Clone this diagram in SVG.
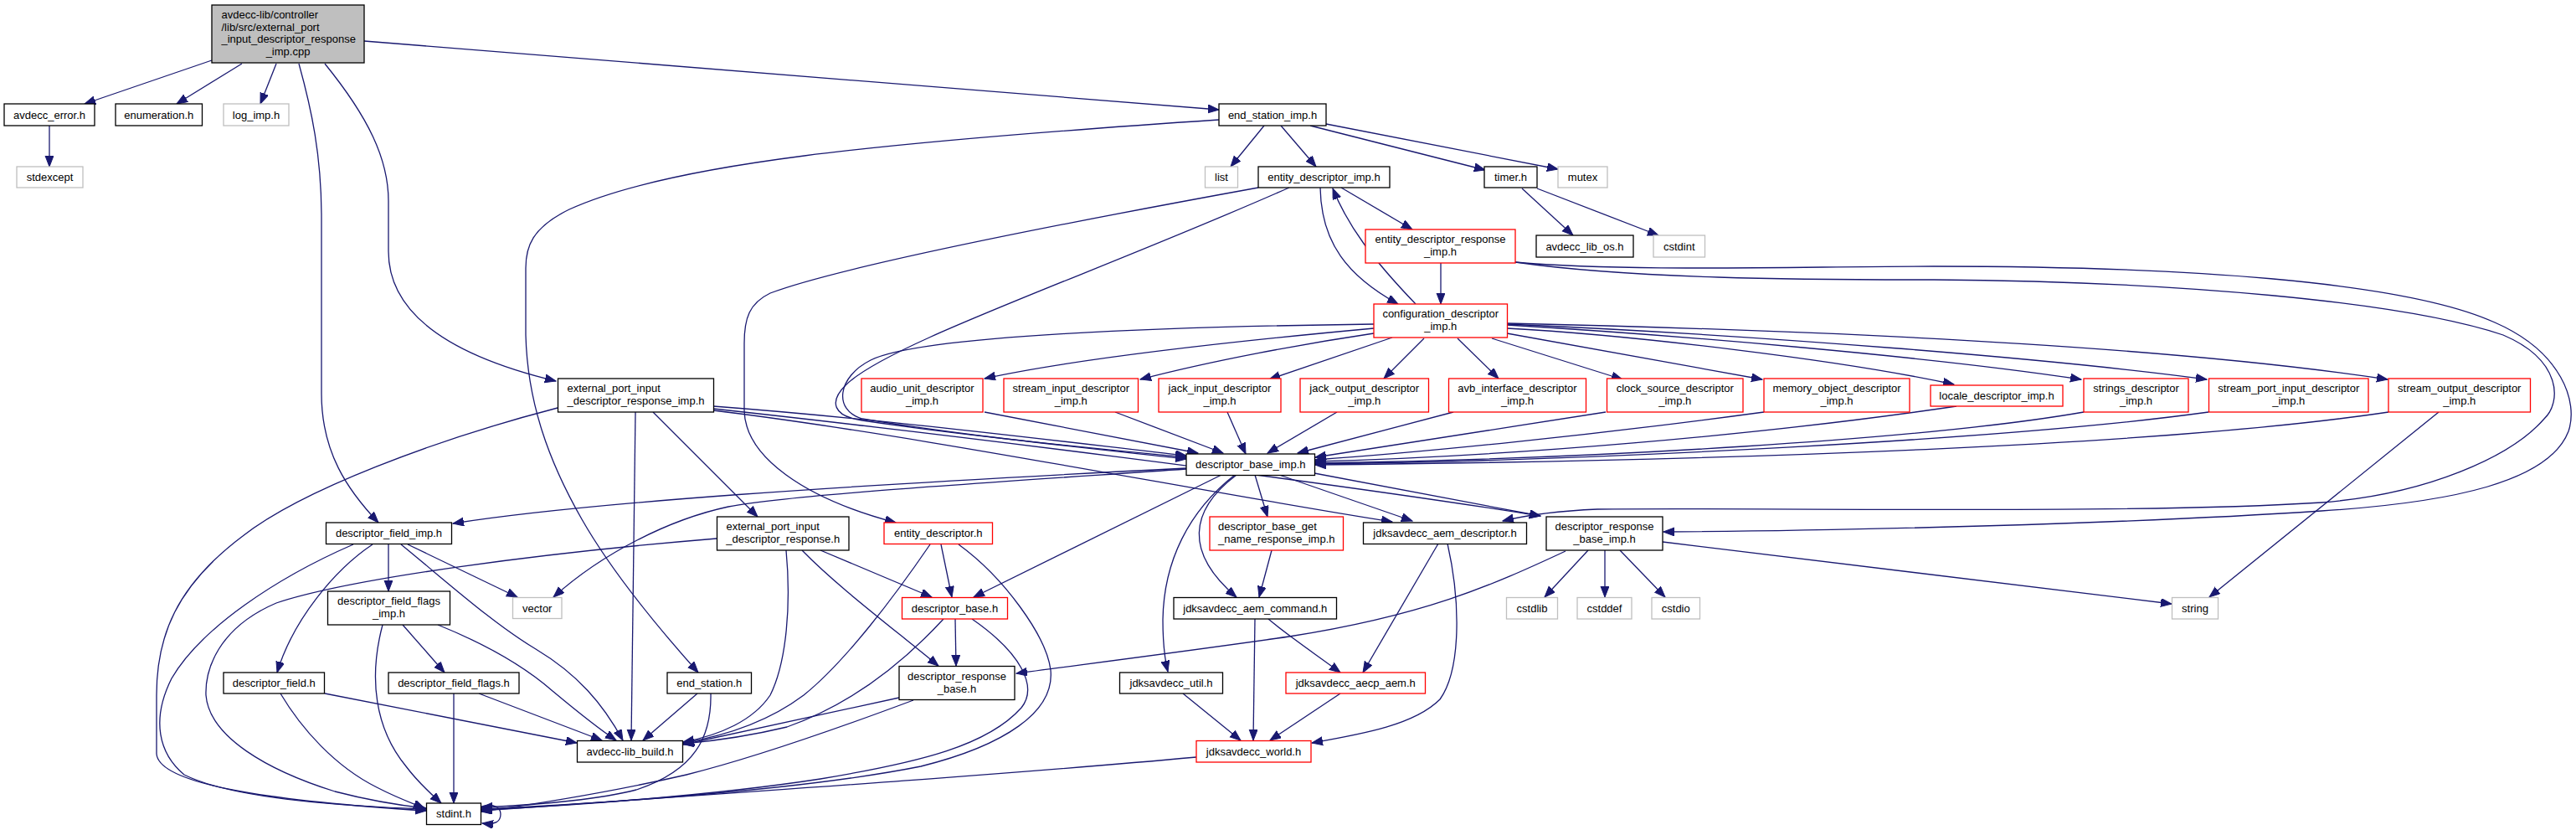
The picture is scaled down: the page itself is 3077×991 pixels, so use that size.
<svg xmlns="http://www.w3.org/2000/svg" width="3077" height="991" viewBox="0 0 3077 991">
<defs>
<marker id="a" markerUnits="userSpaceOnUse" markerWidth="14" markerHeight="11" refX="13" refY="5" orient="auto">
<path d="M0,0 L13,5 L0,10 z" fill="#191970" stroke="#191970" stroke-width="1"/>
</marker>
<style>
text{font-family:"Liberation Sans",Arial,sans-serif;font-size:13px;fill:#000}
.c{text-anchor:middle}
.n rect{fill:#fff;stroke:#000;stroke-width:1.3}
.g rect{stroke:#bfbfbf}
.r rect{stroke:#ff0000}
#edges path{fill:none;stroke:#191970;stroke-width:1.3;marker-end:url(#a)}
</style>
</defs>
<rect width="3077" height="991" fill="#fff"/>
<g id="edges">
<path d="M253,72 L101,124"/>
<path d="M289,76 L211,124"/>
<path d="M330,76 L311,124"/>
<path d="M357,76 C372,130 384,185 384,260 L384,470 C384,540 415,585 452,624"/>
<path d="M388,76 C440,140 464,190 464,240 L464,300 C464,385 560,430 664,455"/>
<path d="M435,49 L1456,131"/>
<path d="M59,150 L59,199"/>
<path d="M1510,150 L1470,199"/>
<path d="M1530,150 L1572,199"/>
<path d="M1565,150 L1774,203"/>
<path d="M1584,148 L1861,202"/>
<path d="M1456,143 C1050,170 800,195 680,250 C635,272 628,295 628,320 L628,400 C630,480 655,550 695,620 C735,690 800,765 834,803"/>
<path d="M1818,225 L1879,281"/>
<path d="M1836,225 L1981,281"/>
<path d="M1602,224 L1687,274"/>
<path d="M1577,224 C1578,290 1610,330 1670,363"/>
<path d="M1540,224 C1300,330 1060,410 1010,460 C990,480 995,497 1030,502 C1150,520 1300,535 1417,546"/>
<path d="M1503,224 C1250,270 1000,320 920,350 C895,362 889,380 889,410 L889,490 C890,545 960,595 1070,624"/>
<path d="M1691,363 C1640,310 1610,270 1592,225"/>
<path d="M1721,314 L1721,363"/>
<path d="M1810,313 C1950,325 2150,318 2310,318 C2600,318 2870,335 2980,385 C3060,420 3080,480 3068,515 C3045,575 2930,600 2773,610 C2550,625 2200,634 1987,635"/>
<path d="M1810,313 C1950,333 2150,334 2310,334 C2600,336 2870,360 2990,400 C3060,430 3060,480 3039,500 C3000,545 2900,590 2773,600 C2550,614 2150,606 1908,608 C1860,610 1820,616 1795,622"/>
<path d="M1641,392 C1500,405 1300,425 1176,452"/>
<path d="M1641,398 C1560,410 1450,430 1362,453"/>
<path d="M1663,403 L1516,453"/>
<path d="M1701,404 L1653,452"/>
<path d="M1741,404 L1790,452"/>
<path d="M1782,404 L1938,453"/>
<path d="M1800,398 L2105,453"/>
<path d="M1800,392 C1950,400 2200,430 2334,459"/>
<path d="M1800,388 C2000,400 2300,425 2486,453"/>
<path d="M1800,387 C2100,400 2450,428 2636,453"/>
<path d="M1800,386 C2200,395 2600,415 2852,453"/>
<path d="M1176,492 L1431,541"/>
<path d="M1332,492 L1461,541"/>
<path d="M1466,492 L1488,542"/>
<path d="M1597,492 L1514,541"/>
<path d="M1736,492 L1550,541"/>
<path d="M1918,492 L1571,546"/>
<path d="M2107,492 C1900,520 1700,540 1571,549"/>
<path d="M2337,485 C2100,520 1800,545 1571,551"/>
<path d="M2489,492 C2300,525 1900,548 1571,553"/>
<path d="M2638,492 C2400,525 1900,550 1571,554"/>
<path d="M2853,492 C2600,530 2100,550 1571,555"/>
<path d="M1641,387 C1400,390 1100,400 1040,430 C1000,450 995,490 1030,500 C1150,520 1300,535 1417,548"/>
<path d="M852,485 C1050,500 1250,525 1417,544"/>
<path d="M852,490 C1100,520 1450,590 1663,623"/>
<path d="M852,488 C1100,515 1550,570 1840,616"/>
<path d="M780,492 L905,617"/>
<path d="M759,492 L754,884"/>
<path d="M666,487 C520,525 360,585 290,640 C210,700 187,760 187,830 L187,900 C190,940 350,958 509,968"/>
<path d="M464,650 L464,706"/>
<path d="M445,650 C400,680 350,740 331,803"/>
<path d="M487,650 L618,713"/>
<path d="M479,650 C540,700 590,745 640,775 C690,805 720,840 744,884"/>
<path d="M422,650 C330,690 240,750 205,810 C180,860 190,900 220,925 C280,955 420,963 509,966"/>
<path d="M481,746 L531,803"/>
<path d="M457,746 C440,810 448,870 485,915 C500,935 515,948 527,959"/>
<path d="M523,746 C570,765 620,790 660,825 C690,850 715,870 736,884"/>
<path d="M388,828 L689,887"/>
<path d="M335,828 C360,870 400,915 450,940 C475,953 495,960 507,965"/>
<path d="M542,828 L542,959"/>
<path d="M572,828 L719,884"/>
<path d="M833,828 L768,884"/>
<path d="M849,828 C850,880 830,920 760,943 C700,958 620,962 575,964"/>
<path d="M980,657 L1113,713"/>
<path d="M958,657 C1000,700 1060,745 1121,795"/>
<path d="M939,657 C945,720 940,790 920,830 C900,860 860,878 816,886"/>
<path d="M856,643 C650,660 420,690 330,720 C260,750 245,800 246,830 C250,880 320,920 400,945 C450,958 490,963 509,965"/>
<path d="M1124,650 L1137,713"/>
<path d="M1111,650 C1070,710 1010,790 960,830 C920,860 870,878 816,887"/>
<path d="M1145,650 C1200,690 1250,760 1255,800 C1260,850 1200,890 1100,915 C950,945 700,960 575,966"/>
<path d="M1141,739 L1142,795"/>
<path d="M1127,739 C1080,790 1020,840 940,868 C890,880 850,885 816,888"/>
<path d="M1161,739 C1220,780 1240,820 1220,845 C1180,890 1100,910 980,930 C850,950 680,962 575,967"/>
<path d="M1074,833 L816,889"/>
<path d="M1091,836 C1000,870 900,905 820,925 C720,948 640,960 575,969"/>
<path d="M1429,904 C1200,925 900,945 575,968"/>
<path d="M575,963 C590,958 598,965 598,972 C598,981 592,985 576,983"/>
<path d="M1417,559 C1000,580 700,600 541,625"/>
<path d="M1417,560 C1200,575 950,590 870,605 C800,620 720,660 661,713"/>
<path d="M1459,567 L1163,713"/>
<path d="M1475,567 C1420,610 1390,670 1389,740 C1389,770 1392,790 1395,802"/>
<path d="M1477,567 C1420,610 1415,660 1477,713"/>
<path d="M1499,567 L1514,617"/>
<path d="M1528,567 L1687,622"/>
<path d="M1570,565 L1840,616"/>
<path d="M1519,657 L1504,713"/>
<path d="M1499,739 L1497,884"/>
<path d="M1515,739 C1540,760 1570,780 1601,803"/>
<path d="M1718,649 L1628,803"/>
<path d="M1729,649 C1745,720 1745,800 1720,835 C1690,865 1630,876 1567,887"/>
<path d="M1601,828 L1517,884"/>
<path d="M1413,828 L1482,884"/>
<path d="M1897,657 L1845,713"/>
<path d="M1917,657 L1917,713"/>
<path d="M1935,657 L1989,713"/>
<path d="M1986,647 L2594,721"/>
<path d="M1870,658 C1780,700 1700,735 1540,760 C1400,780 1280,795 1214,804"/>
<path d="M2913,492 L2639,713"/>
</g>
<g id="root" class="n"><rect x="253" y="6" width="182" height="69" style="fill:#bfbfbf"/><text x="264.5" y="22">avdecc-lib/controller</text><text x="264.5" y="36.7">/lib/src/external_port</text><text x="264.5" y="51.4">_input_descriptor_response</text><text class="c" x="344" y="66.1">_imp.cpp</text></g>
<g id="avdecc_error" class="n"><rect x="5" y="124" width="108" height="26"/><text class="c" x="59" y="141.5">avdecc_error.h</text></g>
<g id="enumeration" class="n"><rect x="138" y="124" width="103.5" height="26"/><text class="c" x="189.75" y="141.5">enumeration.h</text></g>
<g id="log_imp" class="n g"><rect x="267" y="124" width="78" height="26"/><text class="c" x="306" y="141.5">log_imp.h</text></g>
<g id="stdexcept" class="n g"><rect x="20" y="199" width="79" height="25"/><text class="c" x="59.5" y="216">stdexcept</text></g>
<g id="end_station_imp" class="n"><rect x="1456" y="124" width="128" height="26"/><text class="c" x="1520" y="141.5">end_station_imp.h</text></g>
<g id="list" class="n g"><rect x="1439.5" y="199" width="39" height="25"/><text class="c" x="1459" y="216">list</text></g>
<g id="entity_descriptor_imp" class="n"><rect x="1503" y="199" width="157" height="25"/><text class="c" x="1581.5" y="216">entity_descriptor_imp.h</text></g>
<g id="timer" class="n"><rect x="1773" y="199" width="63" height="25"/><text class="c" x="1804.5" y="216">timer.h</text></g>
<g id="mutex" class="n g"><rect x="1861" y="199" width="59" height="25"/><text class="c" x="1890.5" y="216">mutex</text></g>
<g id="entity_descriptor_response_imp" class="n r"><rect x="1631" y="274" width="179" height="40"/><text class="c" x="1720.5" y="290.2">entity_descriptor_response</text><text class="c" x="1720.5" y="305.2">_imp.h</text></g>
<g id="avdecc_lib_os" class="n"><rect x="1835" y="281" width="116" height="26"/><text class="c" x="1893" y="298.5">avdecc_lib_os.h</text></g>
<g id="cstdint" class="n g"><rect x="1975" y="281" width="61.5" height="26"/><text class="c" x="2005.75" y="298.5">cstdint</text></g>
<g id="configuration_descriptor_imp" class="n r"><rect x="1641" y="363" width="159.5" height="40"/><text class="c" x="1720.75" y="379.2">configuration_descriptor</text><text class="c" x="1720.75" y="394.2">_imp.h</text></g>
<g id="external_port_input_descriptor_response_imp" class="n"><rect x="666.5" y="452" width="186" height="40"/><text x="677.5" y="468.2">external_port_input</text><text class="c" x="759.5" y="483.2">_descriptor_response_imp.h</text></g>
<g id="audio_unit_descriptor_imp" class="n r"><rect x="1029" y="452" width="145" height="40"/><text class="c" x="1101.5" y="468.2">audio_unit_descriptor</text><text class="c" x="1101.5" y="483.2">_imp.h</text></g>
<g id="stream_input_descriptor_imp" class="n r"><rect x="1199" y="452" width="160.5" height="40"/><text class="c" x="1279.25" y="468.2">stream_input_descriptor</text><text class="c" x="1279.25" y="483.2">_imp.h</text></g>
<g id="jack_input_descriptor_imp" class="n r"><rect x="1384" y="452" width="146" height="40"/><text class="c" x="1457" y="468.2">jack_input_descriptor</text><text class="c" x="1457" y="483.2">_imp.h</text></g>
<g id="jack_output_descriptor_imp" class="n r"><rect x="1553" y="452" width="153.5" height="40"/><text class="c" x="1629.75" y="468.2">jack_output_descriptor</text><text class="c" x="1629.75" y="483.2">_imp.h</text></g>
<g id="avb_interface_descriptor_imp" class="n r"><rect x="1730.5" y="452" width="164" height="40"/><text class="c" x="1812.5" y="468.2">avb_interface_descriptor</text><text class="c" x="1812.5" y="483.2">_imp.h</text></g>
<g id="clock_source_descriptor_imp" class="n r"><rect x="1919.5" y="452" width="162.5" height="40"/><text class="c" x="2000.75" y="468.2">clock_source_descriptor</text><text class="c" x="2000.75" y="483.2">_imp.h</text></g>
<g id="memory_object_descriptor_imp" class="n r"><rect x="2107" y="452" width="174" height="40"/><text class="c" x="2194" y="468.2">memory_object_descriptor</text><text class="c" x="2194" y="483.2">_imp.h</text></g>
<g id="locale_descriptor_imp" class="n r"><rect x="2306" y="460" width="158" height="25"/><text class="c" x="2385" y="477">locale_descriptor_imp.h</text></g>
<g id="strings_descriptor_imp" class="n r"><rect x="2489" y="452" width="125" height="40"/><text class="c" x="2551.5" y="468.2">strings_descriptor</text><text class="c" x="2551.5" y="483.2">_imp.h</text></g>
<g id="stream_port_input_descriptor_imp" class="n r"><rect x="2638.5" y="452" width="190.5" height="40"/><text class="c" x="2733.75" y="468.2">stream_port_input_descriptor</text><text class="c" x="2733.75" y="483.2">_imp.h</text></g>
<g id="stream_output_descriptor_imp" class="n r"><rect x="2853" y="452" width="169.5" height="40"/><text class="c" x="2937.75" y="468.2">stream_output_descriptor</text><text class="c" x="2937.75" y="483.2">_imp.h</text></g>
<g id="descriptor_base_imp" class="n"><rect x="1417" y="542" width="153.5" height="25.5"/><text class="c" x="1493.75" y="559.25">descriptor_base_imp.h</text></g>
<g id="descriptor_field_imp" class="n"><rect x="389.5" y="624" width="150" height="25.5"/><text class="c" x="464.5" y="641.25">descriptor_field_imp.h</text></g>
<g id="external_port_input_descriptor_response" class="n"><rect x="856.5" y="617" width="157.5" height="40"/><text x="867.5" y="633.2">external_port_input</text><text class="c" x="935.25" y="648.2">_descriptor_response.h</text></g>
<g id="entity_descriptor" class="n r"><rect x="1056" y="624" width="129.5" height="25.5"/><text class="c" x="1120.75" y="641.25">entity_descriptor.h</text></g>
<g id="descriptor_base_get_name_response_imp" class="n r"><rect x="1445" y="617" width="159.5" height="40"/><text x="1455" y="633.2">descriptor_base_get</text><text class="c" x="1524.75" y="648.2">_name_response_imp.h</text></g>
<g id="jdksavdecc_aem_descriptor" class="n"><rect x="1628.5" y="624" width="195" height="25.5"/><text class="c" x="1726" y="641.25">jdksavdecc_aem_descriptor.h</text></g>
<g id="descriptor_response_base_imp" class="n"><rect x="1847" y="617" width="139" height="40"/><text class="c" x="1916.5" y="633.2">descriptor_response</text><text class="c" x="1916.5" y="648.2">_base_imp.h</text></g>
<g id="descriptor_field_flags_imp" class="n"><rect x="391.5" y="706" width="146" height="40"/><text class="c" x="464.5" y="722.2">descriptor_field_flags</text><text class="c" x="464.5" y="737.2">_imp.h</text></g>
<g id="vector" class="n g"><rect x="612.5" y="713.5" width="58.5" height="25"/><text class="c" x="641.75" y="730.5">vector</text></g>
<g id="descriptor_base" class="n r"><rect x="1077.5" y="713.5" width="126" height="25.5"/><text class="c" x="1140.5" y="730.75">descriptor_base.h</text></g>
<g id="jdksavdecc_aem_command" class="n"><rect x="1402" y="713.5" width="194.5" height="25.5"/><text class="c" x="1499.25" y="730.75">jdksavdecc_aem_command.h</text></g>
<g id="cstdlib" class="n g"><rect x="1799.5" y="713.5" width="61" height="25.5"/><text class="c" x="1830" y="730.75">cstdlib</text></g>
<g id="cstddef" class="n g"><rect x="1884" y="713.5" width="65" height="25.5"/><text class="c" x="1916.5" y="730.75">cstddef</text></g>
<g id="cstdio" class="n g"><rect x="1973" y="713.5" width="57.5" height="25.5"/><text class="c" x="2001.75" y="730.75">cstdio</text></g>
<g id="string" class="n g"><rect x="2594.5" y="713.5" width="55" height="25.5"/><text class="c" x="2622" y="730.75">string</text></g>
<g id="descriptor_field" class="n"><rect x="267" y="803" width="120.5" height="25"/><text class="c" x="327.25" y="820">descriptor_field.h</text></g>
<g id="descriptor_field_flags" class="n"><rect x="464" y="803" width="156" height="25"/><text class="c" x="542" y="820">descriptor_field_flags.h</text></g>
<g id="end_station" class="n"><rect x="797" y="803" width="100.5" height="25"/><text class="c" x="847.25" y="820">end_station.h</text></g>
<g id="descriptor_response_base" class="n"><rect x="1074" y="795.5" width="138" height="40"/><text class="c" x="1143" y="811.7">descriptor_response</text><text class="c" x="1143" y="826.7">_base.h</text></g>
<g id="jdksavdecc_util" class="n"><rect x="1337.5" y="803" width="123" height="25"/><text class="c" x="1399" y="820">jdksavdecc_util.h</text></g>
<g id="jdksavdecc_aecp_aem" class="n r"><rect x="1536" y="803" width="166.5" height="25"/><text class="c" x="1619.25" y="820">jdksavdecc_aecp_aem.h</text></g>
<g id="avdecc_lib_build" class="n"><rect x="689.5" y="884.5" width="126" height="25.5"/><text class="c" x="752.5" y="901.75">avdecc-lib_build.h</text></g>
<g id="jdksavdecc_world" class="n r"><rect x="1429" y="884.5" width="137" height="25.5"/><text class="c" x="1497.5" y="901.75">jdksavdecc_world.h</text></g>
<g id="stdint" class="n"><rect x="509.5" y="959" width="65" height="25.5"/><text class="c" x="542" y="976.25">stdint.h</text></g>
</svg>
